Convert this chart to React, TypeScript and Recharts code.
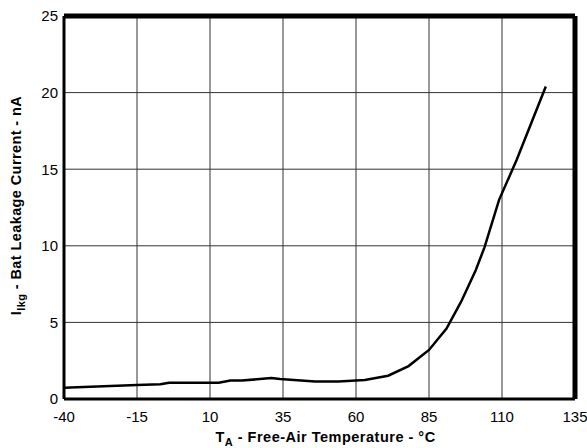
import {
  LineChart,
  Line,
  XAxis,
  YAxis,
  CartesianGrid,
  ReferenceLine,
  Label,
} from "recharts";

const temps = [
  -40, -15, -7, -4, 10, 13, 17, 21, 31, 34, 46, 54, 63, 71, 78, 85, 91, 96,
  101, 104, 109, 115, 120, 125,
];
const leakage = [
  0.74, 0.91, 0.96, 1.06, 1.06, 1.06, 1.2, 1.2, 1.37, 1.3, 1.15, 1.15, 1.24,
  1.52, 2.15, 3.2, 4.6, 6.35, 8.4, 9.9, 13.0, 15.6, 18.0, 20.4,
];
const xTicks = [-40, -15, 10, 35, 60, 85, 110, 135];
const yTicks = [0, 5, 10, 15, 20, 25];

const data = temps.map((t, i) => ({ t, ilkg: leakage[i] }));

const font = "'Liberation Sans', Arial, sans-serif";
const frame = { stroke: "#000", strokeWidth: 3 };

const XTitle = (props: any) => {
  const vb = props.viewBox || { x: 63, width: 512 };
  const cx = vb.x + vb.width / 2 + 6;
  return (
    <text
      x={cx}
      y={442}
      textAnchor="middle"
      fontFamily={font}
      fontWeight="bold"
      fontSize={14.5}
      letterSpacing={0.5}
      fill="#000"
    >
      T<tspan dy={4} fontSize={11}>A</tspan>
      <tspan dy={-4}> - Free-Air Temperature - °C</tspan>
    </text>
  );
};

const YTitle = (props: any) => {
  const vb = props.viewBox || { y: 16, height: 383 };
  const cy = vb.y + vb.height / 2 - 2;
  return (
    <text
      x={21}
      y={cy}
      transform={`rotate(-90, 21, ${cy})`}
      textAnchor="middle"
      fontFamily={font}
      fontWeight="bold"
      fontSize={14.5}
      letterSpacing={0.4}
      fill="#000"
    >
      I<tspan dy={4} fontSize={11}>lkg</tspan>
      <tspan dy={-4}> - Bat Leakage Current - nA</tspan>
    </text>
  );
};

export default function App() {
  return (
    <div style={{ position: "absolute", left: 0, top: 0, background: "#fff" }}>
      <LineChart
        width={587}
        height={448}
        data={data}
        margin={{ top: 16, right: 12, bottom: 0, left: 0 }}
      >
        <CartesianGrid stroke="#333" strokeWidth={1} />
        <XAxis
          dataKey="t"
          type="number"
          domain={[-40, 135]}
          ticks={xTicks}
          height={49}
          tickLine={false}
          axisLine={frame}
          tickSize={0}
          tickMargin={12}
          tick={{ fill: "#000", fontSize: 15, fontFamily: font }}
          interval={0}
        >
          <Label content={XTitle} />
        </XAxis>
        <YAxis
          type="number"
          domain={[0, 25]}
          ticks={yTicks}
          width={64}
          tickLine={false}
          axisLine={frame}
          tickSize={0}
          tickMargin={6}
          tick={{ fill: "#000", fontSize: 15, fontFamily: font }}
          interval={0}
        >
          <Label content={YTitle} />
        </YAxis>
        {/* top and right edges get clipped to the plot area, so draw them wider */}
        <ReferenceLine y={25} stroke="#000" strokeWidth={5} ifOverflow="visible" />
        <ReferenceLine x={135} stroke="#000" strokeWidth={5} ifOverflow="visible" />
        <Line
          type="linear"
          dataKey="ilkg"
          stroke="#000"
          strokeWidth={2.5}
          dot={false}
          isAnimationActive={false}
        />
      </LineChart>
    </div>
  );
}
